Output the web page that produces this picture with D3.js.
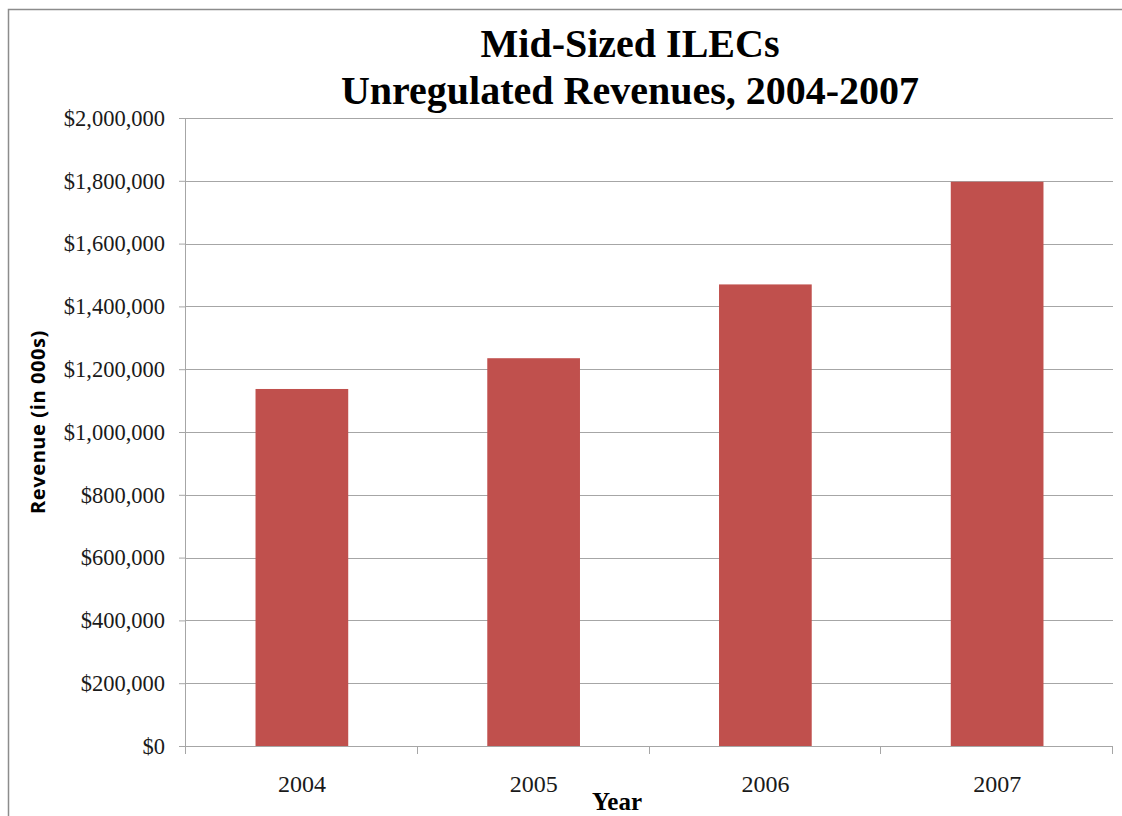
<!DOCTYPE html>
<html>
<head>
<meta charset="utf-8">
<script src="https://cdn.jsdelivr.net/npm/d3@7"></script>
<style>
  html, body { margin: 0; padding: 0; background: #fff; }
  svg { display: block; }
</style>
</head>
<body>
<div id="chart"></div>
<script>
const years = ['2004', '2005', '2006', '2007'];
const revenues = [1137000, 1235000, 1470000, 1797000];
const yTicks = [0, 200000, 400000, 600000, 800000, 1000000, 1200000, 1400000, 1600000, 1800000, 2000000];
const titleLines = ['Mid-Sized ILECs', 'Unregulated Revenues, 2004-2007'];

const width = 1122, height = 816;
const margin = { top: 118, right: 9, bottom: 70, left: 186 };
const innerW = width - margin.left - margin.right;
const innerH = height - margin.top - margin.bottom;
const serif = '"Liberation Serif", "DejaVu Serif", serif';

const svg = d3.select('#chart')
    .append('svg')
    .attr('width', width)
    .attr('height', height);

// outer chart border
svg.append('rect')
    .attr('x', 8.5).attr('y', 9.5)
    .attr('width', width + 10).attr('height', height + 10)
    .attr('fill', 'none')
    .attr('stroke', '#8c8c8c')
    .attr('stroke-width', 1.5);

const chart = svg.append('g')
    .attr('transform', `translate(${margin.left},${margin.top})`);

const x = d3.scaleBand()
    .domain(years)
    .range([0, innerW])
    .paddingInner(0.6)
    .paddingOuter(0.3);

const y = d3.scaleLinear()
    .domain([0, 2000000])
    .range([innerH, 0]);

// gridlines
chart.append('g')
    .attr('class', 'grid')
    .selectAll('line')
    .data(yTicks)
    .join('line')
    .attr('x1', 0).attr('x2', innerW)
    .attr('y1', d => Math.round(y(d)) + 0.5)
    .attr('y2', d => Math.round(y(d)) + 0.5)
    .attr('stroke', '#a6a6a6')
    .attr('stroke-width', 1);

// bars
chart.selectAll('.bar')
    .data(years)
    .join('rect')
    .attr('class', 'bar')
    .attr('x', d => x(d))
    .attr('y', (d, i) => y(revenues[i]))
    .attr('width', x.bandwidth())
    .attr('height', (d, i) => innerH - y(revenues[i]))
    .attr('fill', '#c0504d');

// y axis
const yAxis = d3.axisLeft(y)
    .tickValues(yTicks)
    .tickSize(7)
    .tickPadding(14)
    .tickFormat(d => '$' + d3.format(',')(d));

const yg = chart.append('g').attr('class', 'y-axis').call(yAxis);
yg.select('.domain').attr('stroke', '#a6a6a6').attr('d', `M-0.5,0V${innerH}`);
yg.selectAll('.tick line').attr('stroke', '#a6a6a6');
yg.selectAll('text')
    .attr('fill', '#1a1a1a')
    .style('font-family', serif)
    .style('font-size', '22.5px');

// x axis: ticks at category boundaries
const xg = chart.append('g')
    .attr('class', 'x-axis')
    .attr('transform', `translate(0,${innerH})`);
xg.append('line')
    .attr('x1', 0).attr('x2', innerW)
    .attr('y1', 0.5).attr('y2', 0.5)
    .attr('stroke', '#a6a6a6');
const step = innerW / years.length;
xg.selectAll('.sep')
    .data(d3.range(years.length + 1))
    .join('line')
    .attr('class', 'sep')
    .attr('x1', i => Math.round(i * step) - 0.5)
    .attr('x2', i => Math.round(i * step) - 0.5)
    .attr('y1', 0).attr('y2', 8)
    .attr('stroke', '#a6a6a6');
xg.selectAll('.lbl')
    .data(years)
    .join('text')
    .attr('class', 'lbl')
    .attr('x', d => x(d) + x.bandwidth() / 2)
    .attr('y', 46)
    .attr('text-anchor', 'middle')
    .attr('fill', '#1a1a1a')
    .style('font-family', serif)
    .style('font-size', '24px')
    .text(d => d);

// axis titles
svg.append('text')
    .attr('x', 617).attr('y', 810)
    .attr('text-anchor', 'middle')
    .style('font-family', serif)
    .style('font-weight', 'bold')
    .style('font-size', '25px')
    .text('Year');

svg.append('text')
    .attr('transform', 'translate(45,422) rotate(-90)')
    .attr('text-anchor', 'middle')
    .style('font-family', '"Open Sans", "Noto Sans", sans-serif')
    .style('font-weight', 'bold')
    .style('font-size', '20px')
    .style('letter-spacing', '0.6px')
    .text('Revenue (in 000s)');

// chart title
svg.append('g')
    .selectAll('text')
    .data(titleLines)
    .join('text')
    .attr('x', 630)
    .attr('y', (d, i) => 57 + i * 47)
    .attr('text-anchor', 'middle')
    .style('font-family', serif)
    .style('font-weight', 'bold')
    .style('font-size', '40px')
    .text(d => d);
</script>
</body>
</html>
